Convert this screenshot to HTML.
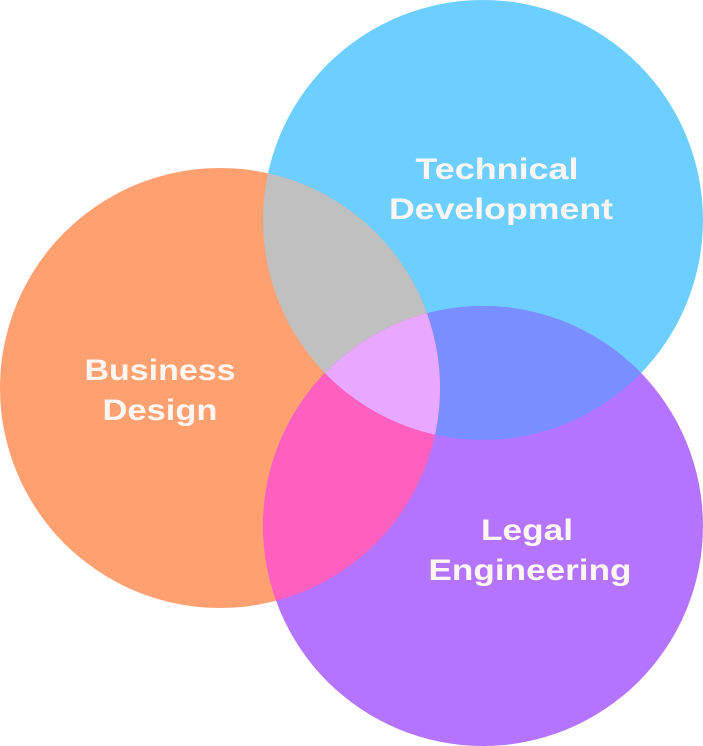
<!DOCTYPE html>
<html><head><style>
html,body{margin:0;padding:0;background:#fff;}
svg{display:block;}
text{font-family:"Liberation Sans",sans-serif;font-weight:bold;font-size:30px;fill:#fdf6f2;text-anchor:middle;}
</style></head><body>
<svg width="703" height="746" viewBox="0 0 703 746">
<defs>
<clipPath id="cb"><circle cx="483" cy="220" r="220"/></clipPath>
<clipPath id="co"><circle cx="220" cy="388" r="220"/></clipPath>
<clipPath id="cp"><circle cx="483" cy="526" r="220"/></clipPath>
</defs>
<circle cx="483" cy="220" r="220" fill="#6dcfff"/>
<circle cx="220" cy="388" r="220" fill="#ffa070"/>
<circle cx="483" cy="526" r="220" fill="#b574ff"/>
<g clip-path="url(#cb)"><circle cx="220" cy="388" r="220" fill="#c0c0c0"/><circle cx="483" cy="526" r="220" fill="#7a8fff"/></g>
<g clip-path="url(#co)"><circle cx="483" cy="526" r="220" fill="#ff5fbe"/></g>
<g clip-path="url(#cb)"><g clip-path="url(#co)"><circle cx="483" cy="526" r="220" fill="#e8a8ff"/></g></g>
<text x="497" y="179" textLength="163" lengthAdjust="spacingAndGlyphs">Technical</text>
<text x="501" y="219" textLength="224" lengthAdjust="spacingAndGlyphs">Development</text>
<text x="160" y="380" textLength="151" lengthAdjust="spacingAndGlyphs">Business</text>
<text x="160" y="420" textLength="115" lengthAdjust="spacingAndGlyphs">Design</text>
<text x="527" y="540" textLength="92" lengthAdjust="spacingAndGlyphs">Legal</text>
<text x="530" y="580" textLength="203" lengthAdjust="spacingAndGlyphs">Engineering</text>
</svg>
</body></html>
